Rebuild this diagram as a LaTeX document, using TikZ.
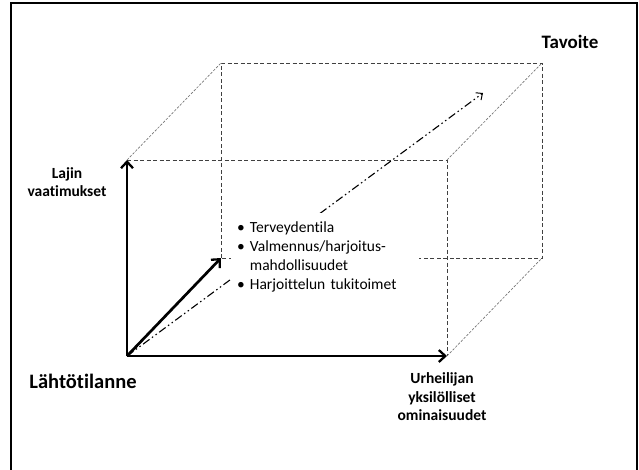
\documentclass[tikz,border=0pt]{standalone}
\usepackage{fontspec}
\setmainfont{Carlito}[RawFeature=-liga]
\usetikzlibrary{arrows.meta}
\tikzset{
  x=1pt, y=-1pt,
  frame/.style={line width=2.5pt, black},
  edge/.style={line width=0.75pt, draw=black!75, dash pattern=on 4pt off 2.5pt},
  diag/.style={line width=0.65pt, draw=black!55, dash pattern=on 2.5pt off 1.5pt},
  axis/.style={line width=2.7pt, black, -{Straight Barb[length=6.5pt,width=12pt,line width=2.3pt]}},
  path/.style={line width=1.1pt, black, dash pattern=on 8pt off 3pt on 1.5pt off 3pt on 1.5pt off 3pt,
     -{Straight Barb[length=5pt,width=9pt,line width=1pt]}},
  lbl/.style={font=\fontsize{15.5}{18.5}\selectfont\bfseries, align=center, inner sep=0pt},
  big/.style={font=\fontsize{20.5}{24}\selectfont\bfseries, inner sep=0pt},
  mid/.style={font=\fontsize{19}{23}\selectfont\bfseries, inner sep=0pt},
  listbox/.style={fill=white, inner xsep=6pt, inner ysep=5.7pt, text width=176pt, align=left,
     font=\fontsize{15.5}{19}\selectfont, anchor=north west}
}
\begin{document}
\begin{tikzpicture}
\useasboundingbox (0,0) rectangle (639,469);
\draw[frame] (11,480) -- (11,3) -- (637,3) -- (637,480);
% cube corners
\coordinate (A) at (127,356);
\coordinate (B) at (447,356);
\coordinate (C) at (127,160);
\coordinate (D) at (447,160);
\coordinate (E) at (221,258);
\coordinate (F) at (542,258);
\coordinate (G) at (221,63);
\coordinate (H) at (542,63);
\coordinate (T) at (483,93);
% hidden and back edges
\draw[edge] (C) -- (D) -- (B);
\draw[edge] (E) -- (G) -- (H) -- (F) -- (E);
\draw[diag] (C) -- (G);
\draw[diag] (D) -- (H);
\draw[diag] (B) -- (F);
% development path
\draw[path] (A) -- (T);
% axes
\draw[axis] (A) -- (C);
\draw[axis] (A) -- (B);
\draw[axis] (A) -- (E);
% factor list
\node[listbox] (list) at (231,213) {%
\begin{tabular}{@{}l@{\hspace{5pt}}l@{}}
\textbullet & Terveydentila\\
\textbullet & Valmennus/harjoitus-\\
 & mahdollisuudet\\
\textbullet & Harjoittelun tukitoimet
\end{tabular}};
% labels
\node[mid] (goal) at (570,42) {Tavoite};
\node[big] (start) at (83,381) {Lähtötilanne};
\node[lbl] (req) at (67,182) {Lajin\\vaatimukset};
\node[lbl] (ind) at (442,397) {Urheilijan\\yksilölliset\\ominaisuudet};
\end{tikzpicture}
\end{document}
